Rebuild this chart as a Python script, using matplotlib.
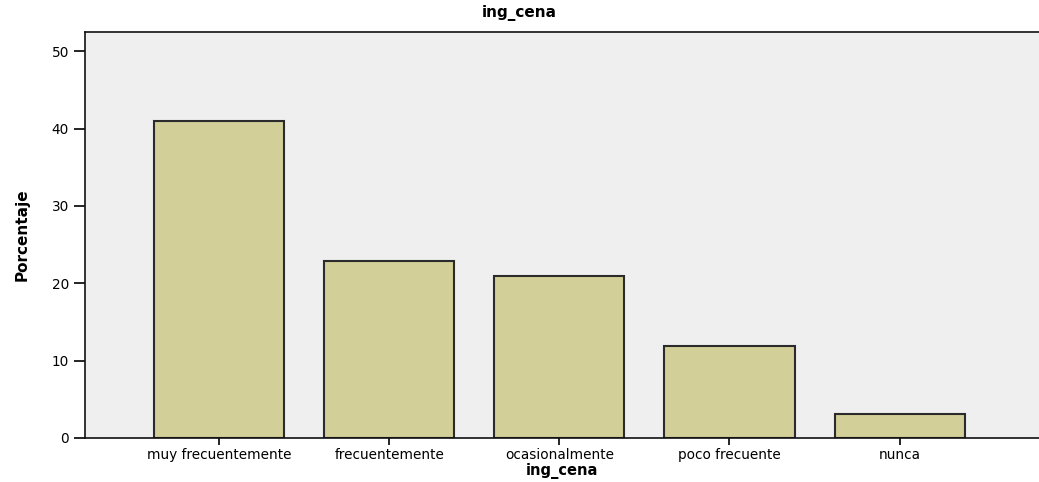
import matplotlib.pyplot as plt

categorias = ['muy frecuentemente', 'frecuentemente', 'ocasionalmente', 'poco frecuente', 'nunca']
porcentaje = [41.0, 22.9, 21.0, 11.9, 3.1]
yticks = [0, 10, 20, 30, 40, 50]

fig = plt.figure(figsize=(10.39, 4.82), dpi=100)
ax = fig.add_axes([0.0818, 0.0913, 0.9182, 0.8423])
ax.set_facecolor('#efefef')

x = range(len(categorias))
ax.bar(x, porcentaje, width=0.765, color='#d3cf98', edgecolor='#2b2b2b', linewidth=1.5)

ax.set_xlim(-0.79, 4.82)
ax.set_ylim(0, 52.5)
ax.set_yticks(yticks)
ax.set_xticks(list(x))
ax.set_xticklabels(categorias, fontsize=9.8)
ax.tick_params(axis='y', labelsize=9.8, length=8, width=1.2, direction='out')
ax.tick_params(axis='x', length=5, width=1.2, direction='out', pad=2)

ax.spines['right'].set_visible(False)
for s in ['left', 'bottom', 'top']:
    ax.spines[s].set_linewidth(1.2)
    ax.spines[s].set_color('#111111')

fig.text(0.5, 0.972, 'ing_cena', fontsize=11, fontweight='bold', ha='center', va='center')
ax.set_xlabel('ing_cena', fontsize=10.5, fontweight='bold', labelpad=1)
ax.set_ylabel('Porcentaje', fontsize=11, fontweight='bold', labelpad=16)

fig.savefig('out.png', dpi=100)
